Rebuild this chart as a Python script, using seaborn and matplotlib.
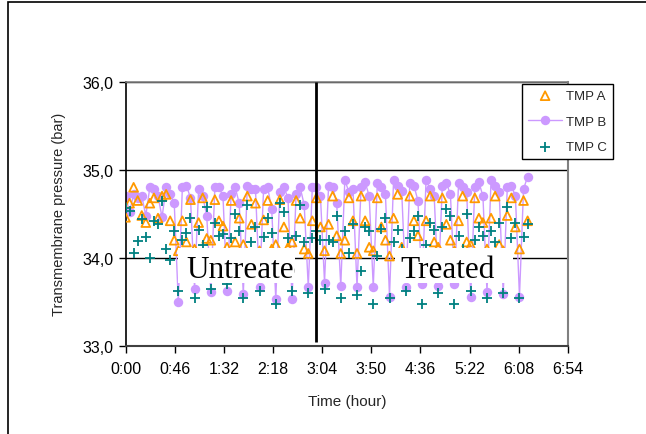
import matplotlib
matplotlib.use("Agg")
import matplotlib.pyplot as plt
from matplotlib.patches import Rectangle
from matplotlib.transforms import Bbox, TransformedBbox
from matplotlib.ticker import FuncFormatter, FixedLocator
import seaborn as sns
import pandas as pd

# ---------------- data (time in minutes, pressure in bar) ----------------
time_min = [0.0, 3.8, 7.6, 11.4, 15.2, 19.0, 22.8, 26.6, 30.4, 34.2,
            38.0, 41.8, 45.6, 49.4, 53.2, 57.0, 60.8, 64.6, 68.4, 72.2,
            76.0, 79.8, 83.6, 87.4, 91.2, 95.0, 98.8, 102.6, 106.4, 110.2,
            114.0, 117.8, 121.6, 125.4, 129.2, 133.0, 136.8, 140.6, 144.4, 148.2,
            152.0, 155.8, 159.6, 163.4, 167.2, 171.0, 174.8, 178.6, 182.4, 186.2,
            190.0, 193.8, 197.6, 201.4, 205.2, 209.0, 212.8, 216.6, 220.4, 224.2,
            228.0, 231.8, 235.6, 239.4, 243.2, 247.0, 250.8, 254.6, 258.4, 262.2,
            266.0, 269.8, 273.6, 277.4, 281.2, 285.0, 288.8, 292.6, 296.4, 300.2,
            304.0, 307.8, 311.6, 315.4, 319.2, 323.0, 326.8, 330.6, 334.4, 338.2,
            342.0, 345.8, 349.6, 353.4, 357.2, 361.0, 364.8, 368.6, 372.4, 376.2]

tmp_a = [34.46, 34.62, 34.80, 34.65, 34.48, 34.40, 34.62, 34.68, 34.45, 34.70,
         34.72, 34.42, 34.20,
         34.08, 34.42, 34.18, 34.66,
         34.10, 34.40, 34.68, 34.22,
         34.20, 34.66, 34.42, 34.36,
         34.12, 34.65, 34.18, 34.45,
         34.15, 34.70, 34.38, 34.62,
         34.08, 34.43, 34.65, 34.10,
         34.15, 34.66, 34.35, 34.12,
         34.18, 34.65, 34.45, 34.10,
         34.05, 34.42, 34.68, 34.35,
         34.08, 34.38, 34.70, 34.25,
         34.05, 34.20, 34.68, 34.42,
         34.05, 34.70, 34.42, 34.12,
         34.08, 34.68, 34.35, 34.20,
         34.02, 34.45, 34.72, 34.12,
         34.05, 34.70, 34.42, 34.25,
         34.05, 34.42, 34.70, 34.18,
         34.12, 34.68, 34.38, 34.20,
         34.08, 34.42, 34.70, 34.18,
         34.15, 34.68, 34.45, 34.40,
         34.10, 34.45, 34.70, 34.15,
         34.08, 34.48, 34.68, 34.35,
         34.10, 34.65, 34.42]

tmp_b = [34.70, 34.52, 34.72, 34.68, 34.70, 34.48, 34.80, 34.78, 34.70, 34.46,
         34.80, 34.72, 34.62,
         33.50, 34.80, 34.82, 34.68,
         33.65, 34.78, 34.70, 34.48,
         33.61, 34.80, 34.80, 34.70,
         33.62, 34.72, 34.80, 34.62,
         33.59, 34.82, 34.78, 34.78,
         33.67, 34.78, 34.80, 34.55,
         33.53, 34.75, 34.80, 34.68,
         33.53, 34.72, 34.80, 34.60,
         33.67, 34.80, 34.80, 34.70,
         33.72, 34.82, 34.80, 34.62,
         33.68, 34.88, 34.75, 34.78,
         33.67, 34.80, 34.86, 34.70,
         33.67, 34.85, 34.80, 34.72,
         33.56, 34.88, 34.82, 34.76,
         33.67, 34.85, 34.82, 34.65,
         33.70, 34.88, 34.78, 34.70,
         33.68, 34.82, 34.85, 34.72,
         33.70, 34.85, 34.80, 34.75,
         33.56, 34.80, 34.86, 34.70,
         33.61, 34.88, 34.82, 34.75,
         33.59, 34.80, 34.82, 34.70,
         33.56, 34.78, 34.92]

tmp_c = [34.56, 34.53, 34.06, 34.19, 34.44, 34.24, 34.00, 34.42, 34.38, 34.64,
         34.10, 33.97, 34.30,
         33.62, 34.20, 34.28, 34.45,
         33.55, 34.32, 34.15, 34.58,
         33.65, 34.40, 34.25, 34.27,
         33.70, 34.22, 34.50, 34.30,
         33.55, 34.60, 34.18, 34.35,
         33.62, 34.24, 34.45, 34.28,
         33.48, 34.62, 34.52, 34.22,
         33.62, 34.25, 34.60, 34.18,
         33.60, 34.22, 34.30, 34.20,
         33.65, 34.20, 34.18, 34.48,
         33.55, 34.30, 34.05, 34.38,
         33.58, 33.85, 34.35, 34.30,
         33.48, 34.02, 34.33, 34.45,
         33.54, 34.18, 34.32, 34.10,
         33.62, 34.22, 34.30, 34.48,
         33.48, 34.15, 34.40, 34.32,
         33.60, 34.35, 34.55, 34.48,
         33.48, 34.25, 34.10, 34.50,
         33.62, 34.20, 34.35, 34.25,
         33.55, 34.30, 34.18, 34.40,
         33.60, 34.58, 34.22, 34.40,
         33.55, 34.24, 34.38]

series_labels = ["TMP A", "TMP B", "TMP C"]
x_ticks_min = [0, 46, 92, 138, 184, 230, 276, 322, 368, 414]
y_ticks = [33.0, 34.0, 35.0, 36.0]
split_time_min = 178.0   # start of treatment (vertical marker line)

df = pd.DataFrame({"t": time_min, "A": tmp_a, "B": tmp_b, "C": tmp_c})

# ---------------- style ----------------
sns.set_style("white")
plt.rcParams["font.family"] = ["Liberation Sans", "DejaVu Sans"]

W, H = 646, 435
fig = plt.figure(figsize=(W / 100, H / 100), dpi=100)
ax = fig.add_axes([125.5 / W, 1 - 347 / H, 442.5 / W, 264.5 / H])

sns.lineplot(data=df, x="t", y="B", ax=ax, color="#CC99FF", linewidth=1.0,
             marker="o", markersize=6.8, markeredgewidth=0, label=series_labels[1],
             zorder=2, sort=False)
sns.scatterplot(data=df, x="t", y="A", ax=ax, marker="^", s=40,
                facecolors="none", edgecolor="#FF9900", linewidth=1.3,
                label=series_labels[0], zorder=3)
sns.scatterplot(data=df, x="t", y="C", ax=ax, marker="+", s=48,
                color="#008080", linewidth=1.3, label=series_labels[2], zorder=4)

ax.set_xlim(0, 414)
ax.set_ylim(33, 36)
ax.xaxis.set_major_locator(FixedLocator(x_ticks_min))
ax.yaxis.set_major_locator(FixedLocator(y_ticks))
ax.xaxis.set_major_formatter(FuncFormatter(lambda v, p: f"{int(v)//60}:{int(v)%60:02d}"))
ax.yaxis.set_major_formatter(FuncFormatter(lambda v, p: f"{v:.1f}".replace(".", ",")))
ax.tick_params(axis="both", which="major", bottom=True, left=True, direction="out",
               length=5, width=1, color="black", labelsize=11.5, labelcolor="black")
ax.tick_params(axis="y", pad=3.5)
ax.tick_params(axis="x", pad=6)

ax.yaxis.grid(True, color="black", linewidth=1, zorder=0)
ax.set_axisbelow(True)

ax.spines["left"].set_color("black")
ax.spines["left"].set_linewidth(1.2)
ax.spines["bottom"].set_color("#404040")
ax.spines["bottom"].set_linewidth(1.5)
ax.spines["right"].set_color("#808080")
ax.spines["right"].set_linewidth(1.5)
ax.spines["top"].set_color("#808080")
ax.spines["top"].set_linewidth(1.2)

ax.set_xlabel("Time (hour)", fontsize=11, labelpad=13)
ax.set_ylabel("Transmembrane pressure (bar)", fontsize=10.5, labelpad=12)

# vertical separator between untreated and treated phases
ax.plot([split_time_min, split_time_min], [33.05, 36.0], color="black",
        linewidth=2, zorder=6, solid_capstyle="butt")

# text boxes (white background, text clipped to the box like the original)
def text_box(x0, x1, txt, tx):
    bx = (x0 - 125.5) / 442.5
    by = (347 - 284) / 264.5
    bw = (x1 - x0) / 442.5
    bh = 35 / 264.5
    r = Rectangle((bx, by), bw, bh, transform=ax.transAxes,
                  facecolor="white", edgecolor="none", zorder=7)
    ax.add_patch(r)
    t = ax.text((tx - 125.5) / 442.5, (347 - 277.5) / 264.5, txt,
                transform=ax.transAxes, fontsize=22.5, family="Liberation Serif",
                va="baseline", ha="left", zorder=8, color="black", clip_on=True)
    t.set_clip_box(TransformedBbox(Bbox.from_bounds(bx, by, bw, bh), ax.transAxes))

text_box(178, 294.5, "Untreated", 186)
text_box(395, 513, "Treated", 400)

# legend
h, l = ax.get_legend_handles_labels()
order = [l.index(s) for s in series_labels]
leg = ax.legend([h[i] for i in order], [l[i] for i in order],
                loc="upper left", bbox_to_anchor=(522 / W, 1 - 85 / H),
                bbox_transform=fig.transFigure, borderaxespad=0,
                frameon=True, fancybox=False, shadow=False, fontsize=9.5,
                handlelength=2.6, handletextpad=0.3, labelspacing=1.0,
                borderpad=0.45, scatterpoints=1, numpoints=1)
leg.get_frame().set_edgecolor("black")
leg.get_frame().set_linewidth(1)
leg.get_frame().set_facecolor("white")
leg.get_frame().set_alpha(1)
leg.set_zorder(10)

# outer chart frame (left and top edges visible)
fig.patches.append(Rectangle((8 / W, -0.1), 1.2, 1.1 - 3 / H, transform=fig.transFigure,
                             facecolor="none", edgecolor="black", linewidth=1.2,
                             clip_on=False))

fig.savefig("out.png", dpi=100)
